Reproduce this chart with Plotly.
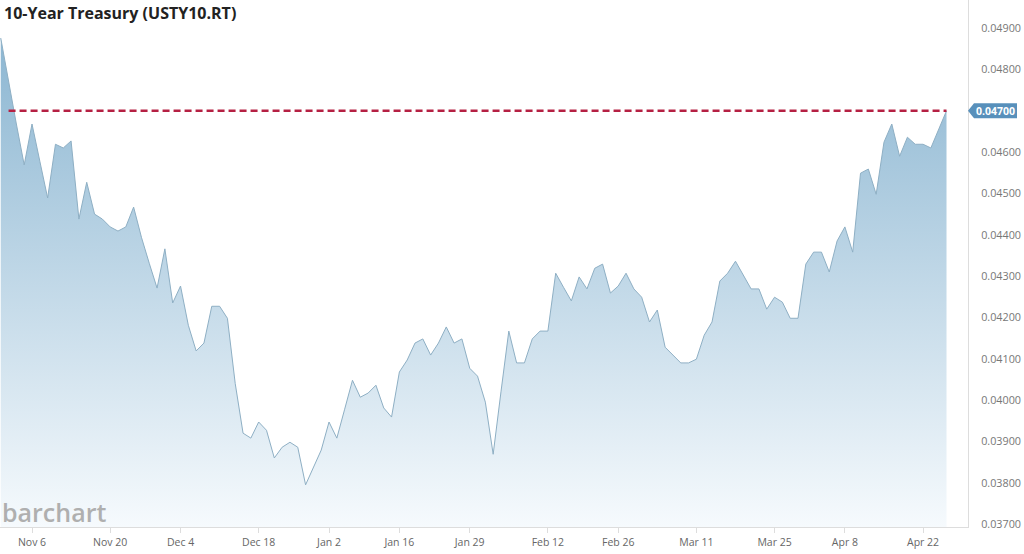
import pandas as pd
import plotly.graph_objects as go

# ---- data -------------------------------------------------------------
start_date = "2023-10-31"
end_date = "2024-04-25"
market_holidays = ["2023-11-23", "2023-12-25", "2024-01-01", "2024-01-15",
                   "2024-02-19", "2024-03-29"]
dates = [d.strftime("%Y-%m-%d") for d in
         pd.bdate_range(start_date, end_date, freq="C", holidays=market_holidays)]

yields = [
    0.04876, 0.04769, 0.04668, 0.04569, 0.04668, 0.04578, 0.04489, 0.04619,
    0.04610, 0.04627, 0.04438, 0.04527, 0.04450, 0.04438, 0.04419, 0.04409,
    0.04419, 0.04467, 0.04394, 0.04331, 0.04271, 0.04366, 0.04235, 0.04276,
    0.04181, 0.04119, 0.04138, 0.04227, 0.04227, 0.04198, 0.04040, 0.03920,
    0.03908, 0.03947, 0.03927, 0.03860, 0.03886, 0.03898, 0.03886, 0.03795,
    0.03835, 0.03879, 0.03947, 0.03908, 0.03978, 0.04048, 0.04007, 0.04017,
    0.04036, 0.03981, 0.03959, 0.04068, 0.04097, 0.04138, 0.04148, 0.04109,
    0.04138, 0.04177, 0.04138, 0.04148, 0.04077, 0.04058, 0.03995, 0.03869,
    0.04020, 0.04167, 0.04090, 0.04090, 0.04148, 0.04167, 0.04167, 0.04307,
    0.04273, 0.04240, 0.04298, 0.04269, 0.04319, 0.04329, 0.04259, 0.04276,
    0.04307, 0.04269, 0.04249, 0.04189, 0.04218, 0.04128, 0.04109, 0.04090,
    0.04090, 0.04099, 0.04157, 0.04189, 0.04288, 0.04307, 0.04336, 0.04302,
    0.04269, 0.04269, 0.04220, 0.04249, 0.04237, 0.04198, 0.04198, 0.04329,
    0.04358, 0.04358, 0.04310, 0.04385, 0.04419, 0.04358, 0.04549, 0.04559,
    0.04498, 0.04624, 0.04668, 0.04590, 0.04636, 0.04619, 0.04619, 0.04610,
    0.04653, 0.04700,
]

x_tick_dates = ["2023-11-06", "2023-11-20", "2023-12-04", "2023-12-18",
                "2024-01-02", "2024-01-16", "2024-01-29", "2024-02-12",
                "2024-02-26", "2024-03-11", "2024-03-25", "2024-04-08",
                "2024-04-22"]
x_tick_labels = ["Nov 6", "Nov 20", "Dec 4", "Dec 18", "Jan 2", "Jan 16",
                 "Jan 29", "Feb 12", "Feb 26", "Mar 11", "Mar 25", "Apr 8",
                 "Apr 22"]

y_tick_values = [0.037, 0.038, 0.039, 0.040, 0.041, 0.042, 0.043, 0.044,
                 0.045, 0.046, 0.047, 0.048, 0.049]
y_tick_labels = ["0.03700", "0.03800", "0.03900", "0.04000", "0.04100",
                 "0.04200", "0.04300", "0.04400", "0.04500", "0.04600",
                 "", "0.04800", "0.04900"]

last_value = yields[-1]
last_label = "0.04700"
title_text = "10-Year Treasury (USTY10.RT)"
watermark = "barchart"

# ---- figure -----------------------------------------------------------
Y_MIN, Y_MAX = 0.03693, 0.04968
FONT = "Open Sans"

fig = go.Figure()
fig.add_trace(go.Scatter(
    x=dates, y=yields, mode="lines",
    line=dict(color="#8eafc4", width=1),
    fill="tozeroy",
    fillgradient=dict(type="vertical",
                      colorscale=[[0, "rgb(246,250,253)"], [1, "rgb(138,181,209)"]],
                      start=Y_MIN, stop=0.0490),
    hoverinfo="skip", showlegend=False,
))

# dashed last-price line
fig.add_shape(type="line", xref="x", yref="y",
              x0=dates[1], x1=dates[-1], y0=last_value, y1=last_value,
              line=dict(color="#b52043", width=2.5, dash="7px,4px"),
              layer="above")

# last price tag on the right axis
h = 7.5 / 41333
fig.add_shape(type="path", xref="paper", yref="y",
              path=(f"M 1.0,{last_value} L 1.0062,{last_value + h} "
                    f"L 1.0506,{last_value + h} L 1.0506,{last_value - h} "
                    f"L 1.0062,{last_value - h} Z"),
              fillcolor="#5890bb", line=dict(width=0), layer="above")
fig.add_annotation(xref="paper", yref="y", x=1.0284, y=last_value,
                   text=f"<b>{last_label}</b>", showarrow=False,
                   font=dict(family=FONT, size=10.5, color="white"),
                   xanchor="center", yanchor="middle")

# title
fig.add_annotation(xref="paper", yref="paper", x=0, y=1, xshift=2, yshift=-13,
                   text=f"<b>{title_text}</b>", showarrow=False,
                   xanchor="left", yanchor="middle",
                   font=dict(family=FONT, size=16, color="#222222"))

# watermark
fig.add_annotation(xref="paper", yref="paper", x=0, y=15 / 527, xshift=0,
                   text=watermark, showarrow=False,
                   xanchor="left", yanchor="middle",
                   font=dict(family=FONT, size=25, color="#afafaf", weight=600))

fig.update_layout(
    width=1024, height=554,
    margin=dict(l=0, r=56, t=0, b=27),
    paper_bgcolor="white", plot_bgcolor="white",
    font=dict(family=FONT),
    xaxis=dict(type="category", range=[-0.095, 123.75],
               tickvals=x_tick_dates, ticktext=x_tick_labels,
               showgrid=False, zeroline=False,
               showline=True, linecolor="#dddddd", linewidth=1,
               ticks="outside", ticklen=5, tickcolor="#dddddd",
               tickfont=dict(family=FONT, size=10.5, color="#666666")),
    yaxis=dict(side="right", range=[Y_MIN, Y_MAX],
               tickvals=y_tick_values, ticktext=y_tick_labels,
               showgrid=False, zeroline=False,
               showline=True, linecolor="#dddddd", linewidth=1,
               ticks="", ticklabelstandoff=10,
               tickfont=dict(family=FONT, size=10.8, color="#777777")),
)

fig.write_html("out.html", config={"displayModeBar": False},
               post_script="document.body.style.margin='0';")
